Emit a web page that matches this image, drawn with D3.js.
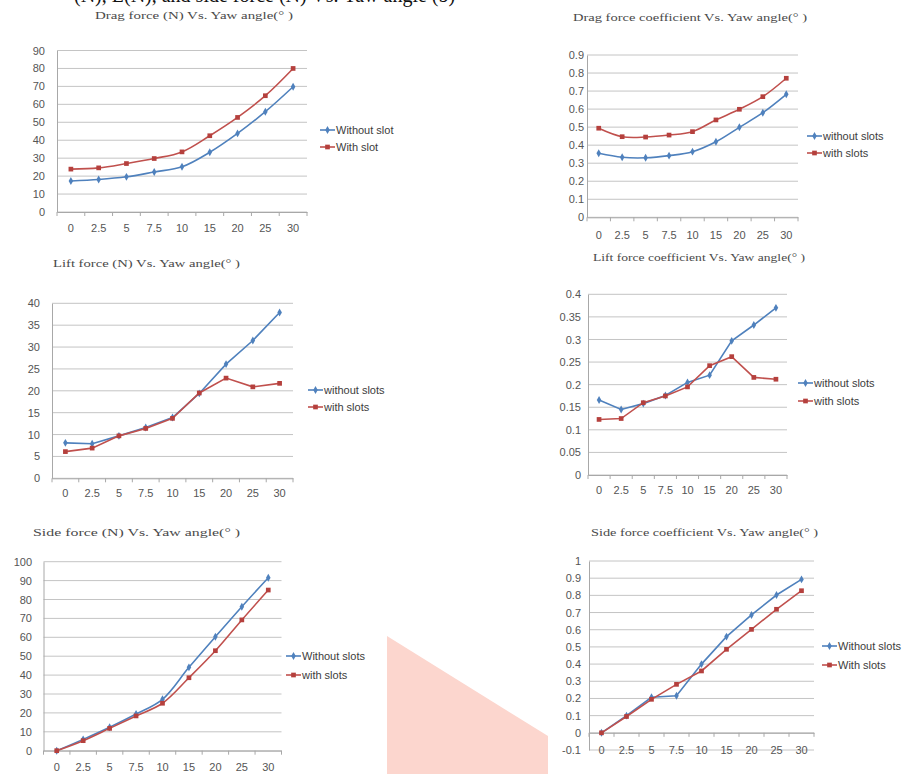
<!DOCTYPE html>
<html>
<head>
<meta charset="utf-8">
<script src="https://cdn.jsdelivr.net/npm/d3@7"></script>
<style>
  html, body { margin: 0; padding: 0; background: #ffffff; }
  svg { display: block; }
</style>
</head>
<body>
<svg id="fig" width="922" height="774"></svg>
<script>
// Yaw angle categories shared by all six panels
const yawAngles = ["0", "2.5", "5", "7.5", "10", "15", "20", "25", "30"];

// Drag force (N)
const dragForceWithout = [17.3, 18.1, 19.6, 22.3, 25.2, 33.3, 43.8, 55.9, 69.8];
const dragForceWith    = [23.9, 24.6, 27.0, 29.8, 33.5, 42.5, 52.7, 64.8, 80.0];
const dragForceTicks   = [0, 10, 20, 30, 40, 50, 60, 70, 80, 90];

// Drag force coefficient
const dragCoefWithout = [0.355, 0.333, 0.330, 0.342, 0.364, 0.419, 0.499, 0.580, 0.682];
const dragCoefWith    = [0.494, 0.447, 0.445, 0.456, 0.475, 0.540, 0.599, 0.669, 0.771];
const dragCoefTicks   = [0, 0.1, 0.2, 0.3, 0.4, 0.5, 0.6, 0.7, 0.8, 0.9];

// Lift force (N)
const liftForceWithout = [8.1, 7.9, 9.7, 11.6, 13.9, 19.4, 26.1, 31.5, 37.9];
const liftForceWith    = [6.1, 6.9, 9.7, 11.4, 13.7, 19.5, 22.9, 20.9, 21.7];
const liftForceTicks   = [0, 5, 10, 15, 20, 25, 30, 35, 40];

// Lift force coefficient
const liftCoefWithout = [0.166, 0.145, 0.158, 0.176, 0.205, 0.221, 0.297, 0.332, 0.370];
const liftCoefWith    = [0.123, 0.125, 0.160, 0.175, 0.195, 0.242, 0.262, 0.216, 0.212];
const liftCoefTicks   = [0, 0.05, 0.1, 0.15, 0.2, 0.25, 0.3, 0.35, 0.4];

// Side force (N)
const sideForceWithout = [0, 6.0, 12.4, 19.4, 27.2, 44.1, 60.3, 76.2, 91.5];
const sideForceWith    = [0, 5.3, 11.8, 18.4, 25.1, 38.6, 52.9, 69.2, 85.0];
const sideForceTicks   = [0, 10, 20, 30, 40, 50, 60, 70, 80, 90, 100];

// Side force coefficient
const sideCoefWithout = [0, 0.100, 0.207, 0.216, 0.400, 0.560, 0.686, 0.802, 0.893];
const sideCoefWith    = [0, 0.095, 0.195, 0.282, 0.360, 0.486, 0.602, 0.719, 0.827];
const sideCoefTicks   = [-0.1, 0, 0.1, 0.2, 0.3, 0.4, 0.5, 0.6, 0.7, 0.8, 0.9, 1];

// Panel titles and legend entries
const panelTitles = [
  "Drag force (N) Vs. Yaw angle(° )",
  "Drag force coefficient Vs. Yaw angle(° )",
  "Lift force (N) Vs. Yaw angle(° )",
  "Lift force coefficient Vs. Yaw angle(° )",
  "Side  force (N) Vs. Yaw angle(° )",
  "Side force coefficient Vs. Yaw angle(° )"
];
const legendLabels = [
  ["Without slot", "With slot"],
  ["without slots", "with slots"],
  ["without slots", "with slots"],
  ["without slots", "with slots"],
  ["Without slots", "with slots"],
  ["Without slots", "With slots"]
];

const BLUE = "#4f81bd";
const RED = "#c0504d";
const GRID = "#c4c4c4";
const AXIS = "#a8a8a8";
const LABEL = "#555555";
const SANS = "'Liberation Sans', Arial, sans-serif";
const SERIF = "'Liberation Serif', 'Times New Roman', serif";

const svg = d3.select("#fig");

// Page background pieces: a caption line running off the top edge, and a pink wedge
svg.append("text")
  .attr("x", 74).attr("y", 2)
  .attr("font-family", SERIF).attr("font-size", 20).attr("fill", "#111")
  .text("(N), L(N), and side force (N) Vs. Yaw angle (b)");

svg.append("polygon")
  .attr("points", "387,636 548,736 548,774 387,774")
  .attr("fill", "#fcd6ce");

// Layout of the six panels
const panels = [
  { title: panelTitles[0], tx: 95, ty: 19, tw: 198,
    without: dragForceWithout, withS: dragForceWith, ticks: dragForceTicks,
    left: 57, right: 307, yDomain: [0, 90], yRange: [212, 50.5], axisAt: 0,
    xLabelY: 228, yLabelRight: 45, fmt: d3.format("d"), smooth: true,
    legX: 320, legY: [130, 147], legend: legendLabels[0] },
  { title: panelTitles[1], tx: 573, ty: 21, tw: 234,
    without: dragCoefWithout, withS: dragCoefWith, ticks: dragCoefTicks,
    left: 587, right: 798, yDomain: [0, 0.9], yRange: [217.3, 55], axisAt: 0,
    xLabelY: 235, yLabelRight: 584, fmt: d => String(d), smooth: true,
    legX: 807, legY: [136, 153], legend: legendLabels[1] },
  { title: panelTitles[2], tx: 53, ty: 267, tw: 187,
    without: liftForceWithout, withS: liftForceWith, ticks: liftForceTicks,
    left: 52, right: 293, yDomain: [0, 40], yRange: [478.3, 303.3], axisAt: 0,
    xLabelY: 493, yLabelRight: 40, fmt: d3.format("d"), smooth: false,
    legX: 308, legY: [390, 407], legend: legendLabels[2] },
  { title: panelTitles[3], tx: 593, ty: 261, tw: 212,
    without: liftCoefWithout, withS: liftCoefWith, ticks: liftCoefTicks,
    left: 588, right: 787, yDomain: [0, 0.4], yRange: [475, 294.3], axisAt: 0,
    xLabelY: 490, yLabelRight: 581, fmt: d => String(d), smooth: false,
    legX: 798, legY: [383, 401], legend: legendLabels[3] },
  { title: panelTitles[4], tx: 33, ty: 536, tw: 207,
    without: sideForceWithout, withS: sideForceWith, ticks: sideForceTicks,
    left: 43.5, right: 281.5, yDomain: [0, 100], yRange: [750.7, 561.7], axisAt: 0,
    xLabelY: 767, yLabelRight: 32, fmt: d3.format("d"), smooth: true,
    legX: 286, legY: [656, 675], legend: legendLabels[4] },
  { title: panelTitles[5], tx: 591, ty: 536, tw: 227,
    without: sideCoefWithout, withS: sideCoefWith, ticks: sideCoefTicks,
    left: 589, right: 814, yDomain: [-0.1, 1], yRange: [750, 561], axisAt: 0,
    xLabelY: 750, yLabelRight: 581, fmt: d => String(d), smooth: false,
    legX: 822, legY: [646, 665], legend: legendLabels[5] }
];

function marker(sel, shape, color) {
  if (shape === "diamond") {
    sel.append("path")
      .attr("d", d3.symbol().type(d3.symbolDiamond).size(18))
      .attr("fill", color);
  } else {
    sel.append("path")
      .attr("d", d3.symbol().type(d3.symbolSquare).size(22))
      .attr("fill", "#b5403d");
  }
}

panels.forEach(p => {
  const g = svg.append("g");
  const x = d3.scaleBand().domain(yawAngles).range([p.left, p.right]);
  const y = d3.scaleLinear().domain(p.yDomain).range(p.yRange);
  const cx = d => x(d) + x.bandwidth() / 2;

  // title
  g.append("text")
    .attr("x", p.tx).attr("y", p.ty)
    .attr("textLength", p.tw).attr("lengthAdjust", "spacingAndGlyphs")
    .attr("font-family", SERIF).attr("font-size", 11).attr("fill", "#4a4a4a")
    .text(p.title);

  // horizontal gridlines
  g.append("g").selectAll("line")
    .data(p.ticks)
    .join("line")
    .attr("x1", p.left).attr("x2", p.right)
    .attr("y1", d => y(d)).attr("y2", d => y(d))
    .attr("stroke", GRID).attr("stroke-width", 1);

  // value axis
  const yAxis = g.append("g")
    .attr("transform", `translate(${p.left},0)`)
    .call(d3.axisLeft(y).tickValues(p.ticks).tickFormat(p.fmt)
      .tickSize(0).tickPadding(p.left - p.yLabelRight));
  yAxis.select(".domain").attr("stroke", AXIS);
  yAxis.selectAll("text")
    .attr("font-family", SANS).attr("font-size", 11).attr("fill", LABEL);

  // category axis: line at zero with tick marks between categories
  const y0 = y(p.axisAt);
  const xAxis = g.append("g")
    .attr("transform", `translate(0,${y0})`)
    .call(d3.axisBottom(x).tickSize(0).tickPadding(p.xLabelY - y0 - 3.9));
  xAxis.select(".domain").attr("stroke", AXIS);
  xAxis.selectAll("text")
    .attr("font-family", SANS).attr("font-size", 11).attr("fill", LABEL);
  g.append("g").selectAll("line")
    .data(d3.range(yawAngles.length + 1))
    .join("line")
    .attr("x1", i => p.left + i * x.bandwidth())
    .attr("x2", i => p.left + i * x.bandwidth())
    .attr("y1", y0).attr("y2", y0 + 4)
    .attr("stroke", AXIS);

  // series
  const series = [
    { values: p.without, color: BLUE, shape: "diamond" },
    { values: p.withS, color: RED, shape: "square" }
  ];
  series.forEach(s => {
    const line = d3.line()
      .x((d, i) => cx(yawAngles[i]))
      .y(d => y(d))
      .curve(p.smooth ? d3.curveCatmullRom.alpha(0.5) : d3.curveLinear);
    g.append("path")
      .attr("d", line(s.values))
      .attr("fill", "none")
      .attr("stroke", s.color)
      .attr("stroke-width", 1.6);
    s.values.forEach((v, i) => {
      const m = g.append("g").attr("transform", `translate(${cx(yawAngles[i])},${y(v)})`);
      marker(m, s.shape, s.color);
    });
  });

  // legend
  series.forEach((s, k) => {
    const ly = p.legY[k];
    g.append("line")
      .attr("x1", p.legX).attr("x2", p.legX + 15)
      .attr("y1", ly).attr("y2", ly)
      .attr("stroke", s.color).attr("stroke-width", 1.6);
    const m = g.append("g").attr("transform", `translate(${p.legX + 7.5},${ly})`);
    marker(m, s.shape, s.color);
    g.append("text")
      .attr("x", p.legX + 16).attr("y", ly + 4)
      .attr("font-family", SANS).attr("font-size", 11).attr("fill", "#3c3c3c")
      .text(p.legend[k]);
  });
});
</script>
</body>
</html>
